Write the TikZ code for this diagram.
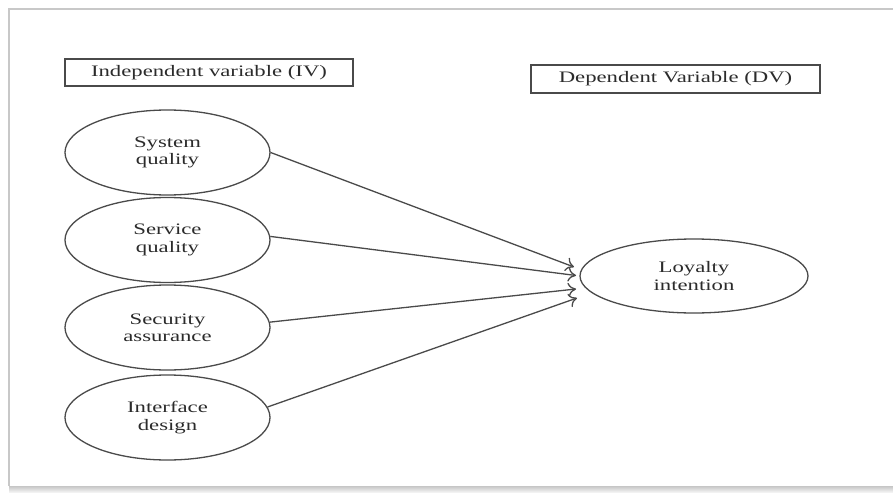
\documentclass[tikz,border=0pt]{standalone}
\usepackage{fontspec}
\setmainfont{Liberation Serif}[FakeStretch = 1.42]
\usetikzlibrary{shapes.geometric, arrows.meta}

\definecolor{txt}{HTML}{2B2B2B}
\definecolor{line}{HTML}{4A4A4A}
\definecolor{frame}{HTML}{C8C8C8}

\begin{document}
\begin{tikzpicture}[x = 0.5pt, y = -0.5pt, font = \fontsize{8}{8.7}\selectfont, text = txt,
	varbox/.style = {draw = line, line width = 0.65pt, minimum width = 144pt, minimum height = 13.5pt, inner sep = 0pt},
	var/.style = {ellipse, draw = line, line width = 0.65pt, minimum width = 102.5pt, minimum height = 42.5pt, inner sep = 0pt, align = center},
	link/.style = {-{To[length = 4pt, width = 7pt]}, draw = line, line width = 0.65pt}]
	\useasboundingbox (0,0) rectangle (893,492);
	% page frame
	\draw [frame, line width = 0.8pt] (9,486) -- (9,9) -- (893,9);
	\shade [top color = gray!45, bottom color = gray!10] (9,486) rectangle (893,492);

	% headings
	\node [varbox] (iv) at (209,72.5) {Independent variable (IV)};
	\node [varbox, minimum width = 144.5pt, minimum height = 14pt] (dv) at (675.5,79) {Dependent Variable (DV)};

	% variables
	\node [var] (sys) at (167.5,152.5) {System\\quality};
	\node [var] (serv) at (167.5,240) {Service\\quality};
	\node [var] (sec) at (167.5,327.5) {Security\\assurance};
	\node [var] (intf) at (167.5,417.5) {Interface\\design};
	\node [var, minimum width = 114pt, minimum height = 37pt] (loy) at (694,276) {Loyalty\\intention};

	% arrow ends
	\coordinate (t1) at (574,267);
	\coordinate (t2) at (576,275.5);
	\coordinate (t3) at (576,289);
	\coordinate (t4) at (577,298);

	\draw [link] (sys.east) -- (t1);
	\draw [link] (serv.2) -- (t2);
	\draw [link] (sec.3) -- (t3);
	\draw [link] (intf.6) -- (t4);
\end{tikzpicture}
\end{document}
